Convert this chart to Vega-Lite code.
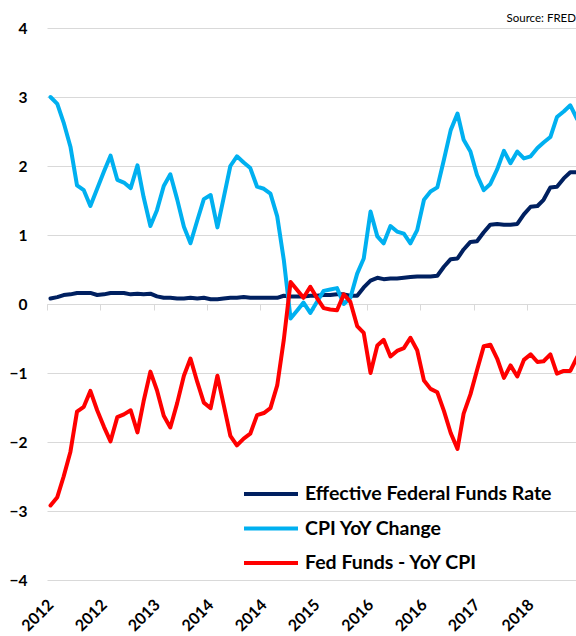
{
  "$schema": "https://vega.github.io/schema/vega-lite/v6.json",
  "width": 529,
  "height": 552,
  "autosize": {"type": "none"},
  "padding": {"left": 47, "top": 28, "right": 0, "bottom": 56},
  "background": "white",
  "title": {"text": "Source: FRED", "anchor": "end", "frame": "group", "fontSize": 11.5, "font": "Lato", "fontWeight": "normal", "color": "#000000", "offset": -3},
  "data": {"values": [
    {"d": "2012-01-01", "ff": 0.08, "cpi": 3.00, "spread": -2.92},
    {"d": "2012-02-01", "ff": 0.10, "cpi": 2.90, "spread": -2.80},
    {"d": "2012-03-01", "ff": 0.13, "cpi": 2.63, "spread": -2.50},
    {"d": "2012-04-01", "ff": 0.14, "cpi": 2.28, "spread": -2.14},
    {"d": "2012-05-01", "ff": 0.16, "cpi": 1.72, "spread": -1.56},
    {"d": "2012-06-01", "ff": 0.16, "cpi": 1.65, "spread": -1.49},
    {"d": "2012-07-01", "ff": 0.16, "cpi": 1.42, "spread": -1.26},
    {"d": "2012-08-01", "ff": 0.13, "cpi": 1.67, "spread": -1.54},
    {"d": "2012-09-01", "ff": 0.14, "cpi": 1.92, "spread": -1.78},
    {"d": "2012-10-01", "ff": 0.16, "cpi": 2.15, "spread": -1.99},
    {"d": "2012-11-01", "ff": 0.16, "cpi": 1.80, "spread": -1.64},
    {"d": "2012-12-01", "ff": 0.16, "cpi": 1.76, "spread": -1.60},
    {"d": "2013-01-01", "ff": 0.14, "cpi": 1.68, "spread": -1.54},
    {"d": "2013-02-01", "ff": 0.15, "cpi": 2.01, "spread": -1.86},
    {"d": "2013-03-01", "ff": 0.14, "cpi": 1.55, "spread": -1.41},
    {"d": "2013-04-01", "ff": 0.15, "cpi": 1.13, "spread": -0.98},
    {"d": "2013-05-01", "ff": 0.11, "cpi": 1.36, "spread": -1.25},
    {"d": "2013-06-01", "ff": 0.09, "cpi": 1.71, "spread": -1.62},
    {"d": "2013-07-01", "ff": 0.09, "cpi": 1.88, "spread": -1.79},
    {"d": "2013-08-01", "ff": 0.08, "cpi": 1.52, "spread": -1.44},
    {"d": "2013-09-01", "ff": 0.08, "cpi": 1.12, "spread": -1.04},
    {"d": "2013-10-01", "ff": 0.09, "cpi": 0.88, "spread": -0.79},
    {"d": "2013-11-01", "ff": 0.08, "cpi": 1.21, "spread": -1.13},
    {"d": "2013-12-01", "ff": 0.09, "cpi": 1.52, "spread": -1.43},
    {"d": "2014-01-01", "ff": 0.07, "cpi": 1.58, "spread": -1.51},
    {"d": "2014-02-01", "ff": 0.07, "cpi": 1.11, "spread": -1.04},
    {"d": "2014-03-01", "ff": 0.08, "cpi": 1.53, "spread": -1.45},
    {"d": "2014-04-01", "ff": 0.09, "cpi": 2.00, "spread": -1.91},
    {"d": "2014-05-01", "ff": 0.09, "cpi": 2.14, "spread": -2.05},
    {"d": "2014-06-01", "ff": 0.10, "cpi": 2.05, "spread": -1.95},
    {"d": "2014-07-01", "ff": 0.09, "cpi": 1.97, "spread": -1.88},
    {"d": "2014-08-01", "ff": 0.09, "cpi": 1.70, "spread": -1.61},
    {"d": "2014-09-01", "ff": 0.09, "cpi": 1.67, "spread": -1.58},
    {"d": "2014-10-01", "ff": 0.09, "cpi": 1.60, "spread": -1.51},
    {"d": "2014-11-01", "ff": 0.09, "cpi": 1.27, "spread": -1.18},
    {"d": "2014-12-01", "ff": 0.12, "cpi": 0.64, "spread": -0.52},
    {"d": "2015-01-01", "ff": 0.11, "cpi": -0.21, "spread": 0.32},
    {"d": "2015-02-01", "ff": 0.11, "cpi": -0.09, "spread": 0.20},
    {"d": "2015-03-01", "ff": 0.11, "cpi": 0.02, "spread": 0.09},
    {"d": "2015-04-01", "ff": 0.12, "cpi": -0.13, "spread": 0.25},
    {"d": "2015-05-01", "ff": 0.12, "cpi": 0.03, "spread": 0.09},
    {"d": "2015-06-01", "ff": 0.13, "cpi": 0.19, "spread": -0.06},
    {"d": "2015-07-01", "ff": 0.13, "cpi": 0.21, "spread": -0.08},
    {"d": "2015-08-01", "ff": 0.14, "cpi": 0.23, "spread": -0.09},
    {"d": "2015-09-01", "ff": 0.14, "cpi": 0.00, "spread": 0.14},
    {"d": "2015-10-01", "ff": 0.12, "cpi": 0.09, "spread": 0.03},
    {"d": "2015-11-01", "ff": 0.12, "cpi": 0.44, "spread": -0.32},
    {"d": "2015-12-01", "ff": 0.24, "cpi": 0.66, "spread": -0.42},
    {"d": "2016-01-01", "ff": 0.34, "cpi": 1.34, "spread": -1.00},
    {"d": "2016-02-01", "ff": 0.38, "cpi": 0.98, "spread": -0.60},
    {"d": "2016-03-01", "ff": 0.36, "cpi": 0.88, "spread": -0.52},
    {"d": "2016-04-01", "ff": 0.37, "cpi": 1.13, "spread": -0.76},
    {"d": "2016-05-01", "ff": 0.37, "cpi": 1.05, "spread": -0.68},
    {"d": "2016-06-01", "ff": 0.38, "cpi": 1.02, "spread": -0.64},
    {"d": "2016-07-01", "ff": 0.39, "cpi": 0.88, "spread": -0.49},
    {"d": "2016-08-01", "ff": 0.40, "cpi": 1.07, "spread": -0.67},
    {"d": "2016-09-01", "ff": 0.40, "cpi": 1.51, "spread": -1.11},
    {"d": "2016-10-01", "ff": 0.40, "cpi": 1.63, "spread": -1.23},
    {"d": "2016-11-01", "ff": 0.41, "cpi": 1.69, "spread": -1.28},
    {"d": "2016-12-01", "ff": 0.54, "cpi": 2.09, "spread": -1.55},
    {"d": "2017-01-01", "ff": 0.65, "cpi": 2.52, "spread": -1.87},
    {"d": "2017-02-01", "ff": 0.66, "cpi": 2.76, "spread": -2.10},
    {"d": "2017-03-01", "ff": 0.79, "cpi": 2.38, "spread": -1.59},
    {"d": "2017-04-01", "ff": 0.90, "cpi": 2.21, "spread": -1.31},
    {"d": "2017-05-01", "ff": 0.91, "cpi": 1.87, "spread": -0.96},
    {"d": "2017-06-01", "ff": 1.04, "cpi": 1.65, "spread": -0.61},
    {"d": "2017-07-01", "ff": 1.15, "cpi": 1.74, "spread": -0.59},
    {"d": "2017-08-01", "ff": 1.16, "cpi": 1.95, "spread": -0.79},
    {"d": "2017-09-01", "ff": 1.15, "cpi": 2.22, "spread": -1.07},
    {"d": "2017-10-01", "ff": 1.15, "cpi": 2.04, "spread": -0.89},
    {"d": "2017-11-01", "ff": 1.16, "cpi": 2.21, "spread": -1.05},
    {"d": "2017-12-01", "ff": 1.30, "cpi": 2.11, "spread": -0.81},
    {"d": "2018-01-01", "ff": 1.41, "cpi": 2.14, "spread": -0.73},
    {"d": "2018-02-01", "ff": 1.42, "cpi": 2.26, "spread": -0.84},
    {"d": "2018-03-01", "ff": 1.51, "cpi": 2.34, "spread": -0.83},
    {"d": "2018-04-01", "ff": 1.69, "cpi": 2.42, "spread": -0.73},
    {"d": "2018-05-01", "ff": 1.70, "cpi": 2.71, "spread": -1.01},
    {"d": "2018-06-01", "ff": 1.82, "cpi": 2.79, "spread": -0.97},
    {"d": "2018-07-01", "ff": 1.91, "cpi": 2.88, "spread": -0.97},
    {"d": "2018-08-01", "ff": 1.91, "cpi": 2.68, "spread": -0.77}
  ]},
  "layer": [
    {
      "transform": [{"fold": ["ff", "cpi", "spread"], "as": ["series", "value"]}],
      "mark": {"type": "line", "strokeWidth": 4, "clip": true, "strokeJoin": "round", "strokeCap": "round"},
      "encoding": {
        "x": {
          "field": "d", "type": "temporal",
          "scale": {"type": "utc", "domain": [{"year": 2011, "month": 12, "date": 16, "utc": true}, {"year": 2018, "month": 7, "date": 27, "utc": true}]},
          "axis": {
            "orient": "bottom", "title": null, "grid": false, "domain": false, "ticks": false, "tickSize": 0,
            "values": [
              {"year": 2012, "month": 1, "date": 1, "utc": true},
              {"year": 2012, "month": 9, "date": 1, "utc": true},
              {"year": 2013, "month": 5, "date": 1, "utc": true},
              {"year": 2014, "month": 1, "date": 1, "utc": true},
              {"year": 2014, "month": 9, "date": 1, "utc": true},
              {"year": 2015, "month": 5, "date": 1, "utc": true},
              {"year": 2016, "month": 1, "date": 1, "utc": true},
              {"year": 2016, "month": 9, "date": 1, "utc": true},
              {"year": 2017, "month": 5, "date": 1, "utc": true},
              {"year": 2018, "month": 1, "date": 1, "utc": true}
            ],
            "format": "%Y", "labelAngle": -45, "labelAlign": "right", "labelBaseline": "middle",
            "labelPadding": 22, "labelFont": "Lato", "labelFontWeight": "bold", "labelFontSize": 16,
            "labelColor": "#000000", "labelOverlap": false, "labelBound": false, "labelFlush": false
          }
        },
        "y": {
          "field": "value", "type": "quantitative",
          "scale": {"domain": [-4, 4], "nice": false, "zero": false},
          "axis": {
            "title": null, "values": [-4, -3, -2, -1, 0, 1, 2, 3, 4], "grid": true, "gridColor": "#D9D9D9", "gridWidth": 1,
            "domain": false, "ticks": false, "tickSize": 0, "labelPadding": 20,
            "labelFont": "Lato", "labelFontWeight": "bold", "labelFontSize": 15.5, "labelColor": "#000000"
          }
        },
        "color": {
          "field": "series", "type": "nominal",
          "scale": {"domain": ["ff", "cpi", "spread"], "range": ["#002060", "#00B0F0", "#FF0000"]},
          "legend": {
            "orient": "none", "legendX": 195, "legendY": 456, "title": null, "padding": 0,
            "symbolType": "stroke", "symbolSize": 2916, "symbolStrokeWidth": 4,
            "labelFont": "Lato", "labelFontWeight": "bold", "labelFontSize": 19.5, "labelColor": "#000000",
            "labelOffset": 5, "clipHeight": 20, "rowPadding": 14.5, "labelLimit": 400,
            "labelExpr": "datum.value == 'ff' ? 'Effective Federal Funds Rate' : datum.value == 'cpi' ? 'CPI YoY Change' : 'Fed Funds - YoY CPI'"
          }
        }
      }
    },
    {
      "mark": {"type": "point", "opacity": 0},
      "encoding": {
        "x": {
          "field": "d", "type": "temporal",
          "scale": {"type": "utc", "domain": [{"year": 2011, "month": 12, "date": 16, "utc": true}, {"year": 2018, "month": 7, "date": 27, "utc": true}]},
          "axis": {
            "orient": "bottom", "offset": -276, "title": null, "grid": false, "labels": false,
            "domain": true, "domainColor": "#D9D9D9", "domainWidth": 1,
            "ticks": true, "tickSize": 6, "tickColor": "#D9D9D9", "tickWidth": 1,
            "values": [
              {"year": 2011, "month": 12, "date": 16, "utc": true},
              {"year": 2012, "month": 8, "date": 16, "utc": true},
              {"year": 2013, "month": 4, "date": 16, "utc": true},
              {"year": 2013, "month": 12, "date": 16, "utc": true},
              {"year": 2014, "month": 8, "date": 16, "utc": true},
              {"year": 2015, "month": 4, "date": 16, "utc": true},
              {"year": 2015, "month": 12, "date": 16, "utc": true},
              {"year": 2016, "month": 8, "date": 16, "utc": true},
              {"year": 2017, "month": 4, "date": 16, "utc": true},
              {"year": 2017, "month": 12, "date": 16, "utc": true}
            ]
          }
        }
      }
    }
  ],
  "resolve": {"axis": {"x": "independent"}},
  "config": {"view": {"stroke": null}}
}
